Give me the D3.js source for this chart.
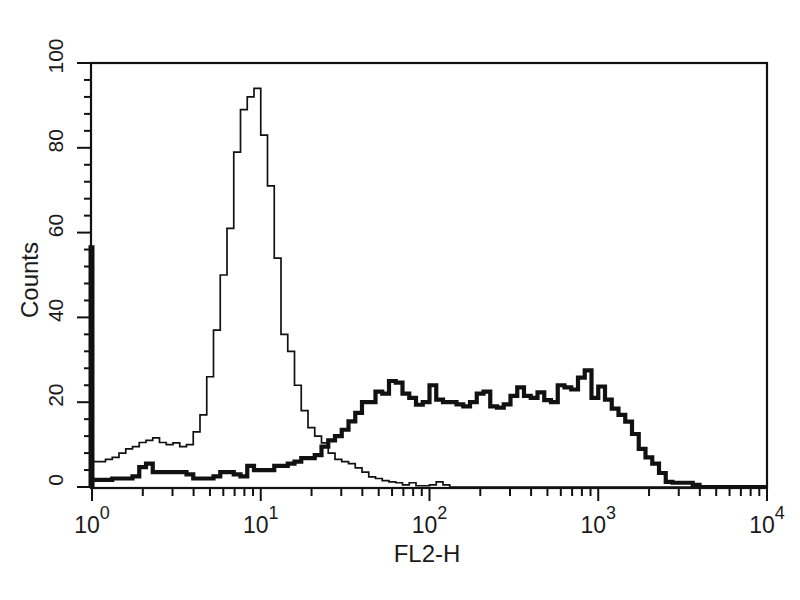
<!DOCTYPE html>
<html>
<head>
<meta charset="utf-8">
<script src="https://cdn.jsdelivr.net/npm/d3@7"></script>
<style>
  body { margin: 0; background: #fff; }
  text { font-family: "Liberation Sans", Arial, sans-serif; fill: #1a1a1a; }
</style>
</head>
<body>
<div id="vis"></div>
<script>
const width = 800;
const height = 600;

// histogram channels: 100 channels over 4 decades (0.04 decade each)
const channelsPerDecade = 25;
const decades = [0, 1, 2, 3, 4];
const yTicks = [0, 20, 40, 60, 80, 100];

// events piled up at the low end of the scale (drawn as a spike on the axis)
const controlOffscale = 6;
const stainedOffscale = 57;

// control (thin line)
const controlCounts = [
  6, 6, 6.5, 7, 8, 9, 9.5, 10.5, 11, 11.6,
  10.5, 10, 10.4, 9.5, 10, 13, 17, 26, 37, 50,
  61, 79, 89, 92, 94, 83, 71, 54, 36, 32,
  24, 18, 14, 12, 10.4, 8, 6.5, 6, 5.5, 4.5,
  3.5, 2.4, 2, 1.5, 1.2, 1, 0.5, 1, 0.3, 0.3,
  0.5, 1.2, 0.5, 0, 0, 0, 0, 0, 0, 0,
  0, 0, 0, 0, 0, 0, 0, 0, 0, 0,
  0, 0, 0, 0, 0, 0, 0, 0, 0, 0,
  0, 0, 0, 0, 0, 0, 0, 0, 0, 0,
  0, 0, 0, 0, 0, 0, 0, 0, 0, 0
];

// stained sample (thick line)
const stainedCounts = [
  1.7, 1.7, 1.7, 2, 2, 2, 2.5, 4.7, 5.5, 3.5,
  3.5, 3.5, 3.5, 3.5, 3, 2, 2, 2, 2.5, 3.5,
  3.5, 3, 2.5, 5, 4, 4, 4, 5, 5, 5.5,
  6, 6.8, 6.8, 7.5, 9.5, 11, 12, 13.5, 15.5, 17.5,
  20, 20, 22.5, 22, 25, 24.6, 22, 21, 19.4, 20,
  24, 20.6, 20, 20, 19.5, 19, 20, 22, 22.5, 19,
  18.7, 19.5, 21.5, 23.5, 21.5, 21, 22.3, 20.5, 20, 24,
  23.5, 23, 25.8, 27.5, 21, 23.7, 20.6, 18.5, 17, 15.4,
  12.5, 9, 7, 5.5, 3.3, 1.2, 1, 1, 1, 0.5,
  0, 0, 0, 0, 0, 0, 0, 0, 0, 0
];

const svg = d3.select("#vis").append("svg")
  .attr("width", width)
  .attr("height", height);

const plotLeft = 91, plotRight = 767, plotTop = 63, plotBottom = 488;

const x = d3.scaleLog().domain([1, 1e4]).range([plotLeft + 1, plotRight]);
const y = d3.scaleLinear().domain([0, 100]).range([plotBottom - 1, plotTop]);

// channel index -> fluorescence value at the channel's lower edge
const edge = i => Math.pow(10, i / channelsPerDecade);

function stepPoints(counts) {
  const pts = [[edge(0), 0]];
  counts.forEach((c, i) => pts.push([edge(i), c]));
  pts.push([edge(counts.length), 0]);
  return pts;
}

const line = d3.line()
  .x(d => x(d[0]))
  .y(d => y(d[1]))
  .curve(d3.curveStepAfter);

svg.append("path")
  .attr("d", line(stepPoints(controlCounts)))
  .attr("fill", "none")
  .attr("stroke", "#111")
  .attr("stroke-width", 1.7);

svg.append("path")
  .attr("d", line(stepPoints(stainedCounts)))
  .attr("fill", "none")
  .attr("stroke", "#111")
  .attr("stroke-width", 4.2)
  .attr("stroke-linejoin", "miter");

// offscale spikes on the left axis
svg.append("g").selectAll("line")
  .data([{ v: controlOffscale, w: 2 }, { v: stainedOffscale, w: 6 }])
  .enter().append("line")
  .attr("x1", x(1) - 0.5)
  .attr("x2", x(1) - 0.5)
  .attr("y1", y(0))
  .attr("y2", d => y(d.v))
  .attr("stroke", "#111")
  .attr("stroke-width", d => d.w);

// frame
svg.append("rect")
  .attr("x", plotLeft)
  .attr("y", plotTop)
  .attr("width", plotRight - plotLeft)
  .attr("height", plotBottom - plotTop)
  .attr("fill", "none")
  .attr("stroke", "#111")
  .attr("stroke-width", 2.2);

// y axis ticks (major every 20, minor every 4)
const yMinor = d3.range(0, 101, 4).filter(v => v % 20 !== 0);
svg.append("g").selectAll("line")
  .data(yTicks.map(v => ({ v, major: true })).concat(yMinor.map(v => ({ v, major: false }))))
  .enter().append("line")
  .attr("x1", d => plotLeft - (d.major ? 14 : 7))
  .attr("x2", plotLeft)
  .attr("y1", d => y(d.v))
  .attr("y2", d => y(d.v))
  .attr("stroke", "#111")
  .attr("stroke-width", 2);

svg.append("g").selectAll("text")
  .data(yTicks)
  .enter().append("text")
  .attr("transform", d => `translate(63, ${y(d) - 7}) rotate(-90)`)
  .attr("text-anchor", "middle")
  .attr("font-size", 21)
  .text(d => d);

// x axis ticks (decades and 2..9 minors)
const xMinor = [];
decades.slice(0, -1).forEach(d => {
  for (let m = 2; m <= 9; m++) xMinor.push(m * Math.pow(10, d));
});
svg.append("g").selectAll("line")
  .data(decades.map(d => ({ v: Math.pow(10, d), major: true })).concat(xMinor.map(v => ({ v, major: false }))))
  .enter().append("line")
  .attr("x1", d => x(d.v))
  .attr("x2", d => x(d.v))
  .attr("y1", plotBottom)
  .attr("y2", d => plotBottom + (d.major ? 13 : 8))
  .attr("stroke", "#111")
  .attr("stroke-width", 2);

const xLabels = svg.append("g").selectAll("text")
  .data(decades)
  .enter().append("text")
  .attr("x", d => x(Math.pow(10, d)))
  .attr("y", 533)
  .attr("text-anchor", "middle")
  .attr("font-size", 23);
xLabels.append("tspan").text("10");
xLabels.append("tspan")
  .attr("dy", -14)
  .attr("font-size", 18)
  .text(d => d);

// axis titles
svg.append("text")
  .attr("x", 427)
  .attr("y", 562)
  .attr("text-anchor", "middle")
  .attr("font-size", 24)
  .text("FL2-H");

svg.append("text")
  .attr("transform", "translate(38, 280) rotate(-90)")
  .attr("text-anchor", "middle")
  .attr("font-size", 24)
  .text("Counts");
</script>
</body>
</html>
